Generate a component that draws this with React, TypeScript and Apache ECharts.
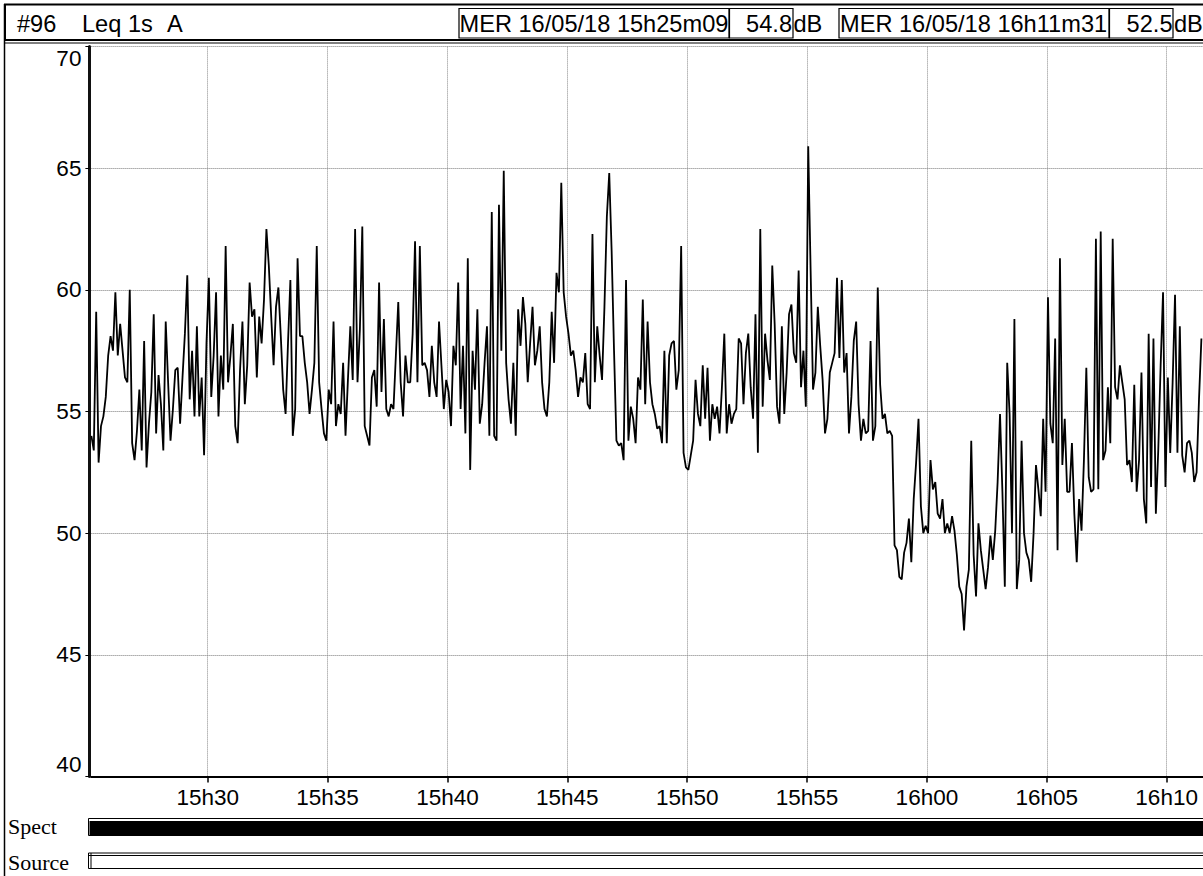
import React, { useEffect, useRef } from "react";
import * as echarts from "echarts";

// Time range (seconds since midnight): 15h25m09 -> 16h11m31
const START_SEC = 55509;
const END_SEC = 58291;
const STEP_SEC = 6;

const xTickSecs = [55800, 56100, 56400, 56700, 57000, 57300, 57600, 57900, 58200];
const xTickLabels = ["15h30", "15h35", "15h40", "15h45", "15h50", "15h55", "16h00", "16h05", "16h10"];
const yMin = 40;
const yMax = 70;
const yStep = 5;

const headerTitle = "#96";
const headerMeasure = "Leq 1s";
const headerWeight = "A";
const startStamp = "MER 16/05/18 15h25m09";
const startLevel = "54.8";
const endStamp = "MER 16/05/18 16h11m31";
const endLevel = "52.5";
const unitLabel = "dB";
const bandLabels = ["Spect", "Source"];

// Leq 1s A values (dB), one reading per 6 s
const leqPart1 = [
  54.0, 53.4, 59.1, 52.9, 54.4, 54.8, 55.6, 57.3, 58.1, 57.5, 59.9, 57.3, 58.6, 57.5, 56.4, 56.2,
  60.0, 53.7, 53.0, 54.2, 55.9, 53.4, 57.9, 52.7, 54.5, 55.8, 59.0, 54.1, 56.5, 55.3, 53.4, 58.7,
  56.2, 53.8, 55.1, 56.7, 56.8, 54.5, 56.4, 58.2, 60.6, 55.5, 57.5, 54.8, 58.5, 54.8, 56.4, 53.2,
  57.8, 60.5, 55.6, 57.3, 59.9, 54.8, 57.3, 55.9, 61.8, 56.2, 57.3, 58.6, 54.4, 53.7, 56.7, 58.7,
  55.3, 56.9, 60.3, 58.9, 59.2, 56.4, 58.9, 57.8, 59.6, 62.5, 61.0, 58.9, 56.9, 59.3, 60.1, 58.1,
  55.9, 54.9, 57.8, 60.4, 54.0, 55.1, 61.3, 58.1, 58.1, 57.0, 56.2, 54.9, 55.9, 57.0, 61.8, 56.2,
  55.1, 54.1, 53.8, 55.9, 55.3, 58.7, 54.4, 55.3, 54.9, 57.0, 54.0, 56.3, 58.5, 56.3, 62.5, 56.2,
  58.4, 62.6, 54.4, 54.0, 53.6, 56.4, 56.7, 55.2, 60.3, 55.8, 58.8, 55.1,
];
const leqPart2 = [
  54.8, 55.3, 55.1, 57.3, 59.5, 56.2, 54.8, 57.3, 56.2, 56.2, 58.2, 62.0, 56.2, 61.8, 56.9, 57.0,
  56.7, 55.6, 57.7, 56.2, 55.6, 58.7, 56.9, 55.1, 56.3, 55.8, 54.4, 57.7, 56.9, 60.3, 55.1, 57.7,
  54.1, 61.3, 52.6, 57.5, 55.9, 59.2, 54.5, 55.3, 57.0, 58.5, 54.0, 63.2, 54.0, 53.8, 63.5, 57.5,
  64.9, 57.0, 55.5, 54.5, 57.0, 54.0, 59.2, 57.7, 59.7, 58.6, 56.2, 57.8, 59.3, 56.9, 57.5, 58.5,
  56.2, 55.1, 54.8, 56.2, 59.1, 57.0, 60.7, 59.9, 64.4, 59.9, 58.9, 58.2, 57.3, 57.5, 56.7, 55.6,
  56.4, 56.2, 57.4, 55.3, 55.1, 62.3, 56.2, 58.5, 57.3, 56.3, 59.3, 63.0, 64.8, 61.6, 57.5, 53.8,
  53.6, 53.7, 53.0, 60.4, 53.8, 55.2, 54.7, 53.7, 56.4, 55.9, 59.6, 55.3, 58.7, 56.2, 55.3, 54.9,
  54.3, 54.4, 53.7, 57.5, 53.7, 57.3, 57.8, 57.9, 55.9,
];
const leqPart3 = [
  56.7, 61.8, 53.3, 52.7, 52.6, 53.2, 53.8, 56.3, 54.9, 54.4, 56.9, 54.7, 56.8, 53.8, 55.3, 54.7,
  55.2, 54.1, 56.0, 58.2, 54.1, 55.3, 54.5, 54.9, 55.1, 58.0, 57.8, 55.3, 57.4, 58.2, 56.0, 54.7,
  59.0, 53.3, 62.5, 55.2, 58.2, 57.1, 56.3, 61.0, 58.6, 55.2, 54.5, 58.5, 54.9, 56.6, 59.0, 59.4,
  57.4, 57.0, 60.8, 56.0, 57.5, 55.2, 65.9, 60.8, 55.9, 56.6, 59.3, 57.7, 56.3, 54.1, 54.7, 56.6,
  57.0, 57.4, 60.5, 57.2, 60.4, 56.6, 57.4, 54.1, 55.6, 57.9, 58.7, 55.3, 53.8, 54.7, 54.1, 54.2,
  57.9, 53.8, 54.4, 60.1, 56.1, 54.7, 54.9, 54.1, 54.2, 54.0,
];
const leqPart4 = [
  49.5, 49.3, 48.2, 48.1, 49.2, 49.6, 50.6, 48.8, 51.4, 52.9, 54.7, 51.1, 50.0, 50.3, 50.0, 53.0,
  51.8, 52.1, 50.8, 50.6, 51.4, 50.0, 50.4, 50.0, 50.7, 50.1, 49.1, 47.8, 47.5, 46.0, 47.8, 48.5,
  53.8, 49.1, 47.4, 50.4, 49.3, 48.5, 47.7, 48.6, 49.9, 48.9, 50.1, 52.1, 54.9, 51.7, 47.8, 57.0,
  54.9, 50.0, 58.8, 47.7, 48.9, 53.8, 50.0, 49.2, 48.9, 48.0, 50.0, 52.8, 51.8, 50.7, 54.7, 51.7,
  59.7, 54.5, 53.7, 58.0, 49.3, 61.3, 52.8, 54.7, 51.7, 51.7, 53.7, 50.8, 48.8, 51.4, 50.1, 53.0,
  56.8, 52.3, 51.7, 51.8, 62.1, 51.8, 62.4, 53.0, 53.4, 56.0, 53.7, 62.1, 56.0, 55.5, 56.9, 56.2,
  55.5, 52.8, 53.0, 52.1, 56.1, 51.7, 53.0, 56.6, 51.4, 50.4, 58.2, 51.9, 58.0, 50.8, 53.4, 56.9,
  59.9, 51.9, 56.4, 53.3, 56.2, 59.8, 53.3, 58.5, 53.2, 52.5, 53.7, 53.8, 53.3, 52.1, 52.5, 55.5,
  58.0,
];

const SANS = '"Liberation Sans", Arial, Helvetica, sans-serif';
const SERIF = '"Liberation Serif", "Times New Roman", serif';

export default function App() {
  const ref = useRef<HTMLDivElement>(null);

  useEffect(() => {
    document.body.style.margin = "0";
    if (!ref.current) return;
    const chart = echarts.init(ref.current, null, { renderer: "svg" });

    const leq = [...leqPart1, ...leqPart2, ...leqPart3, ...leqPart4];
    const seriesData = leq.map((v, i) => [START_SEC + i * STEP_SEC, v]);

    const hdrFont = `23.6px ${SANS}`;
    const hdrY = 23.5;
    const txt = (text: string, x: number, y: number, font: string, align = "left") => ({
      type: "text",
      z: 20,
      style: {
        text,
        x,
        y,
        font,
        fill: "#000",
        textAlign: align,
        textVerticalAlign: "middle",
      },
    });
    const box = (x: number, y: number, w: number, h: number, lw = 1.2, fill = "none") => ({
      type: "rect",
      z: 15,
      shape: { x, y, width: w, height: h },
      style: { fill, stroke: "#000", lineWidth: lw },
    });

    const option: any = {
      animation: false,
      backgroundColor: "#fff",
      grid: { left: 91.4, right: -3.5, top: 46.6, bottom: 99.6, containLabel: false },
      xAxis: {
        type: "value",
        min: START_SEC,
        max: END_SEC,
        axisLine: { show: true, onZero: false, lineStyle: { color: "#000", width: 2 } },
        axisTick: {
          show: true,
          customValues: xTickSecs,
          length: 6,
          lineStyle: { color: "#000", width: 1.5 },
        },
        axisLabel: {
          customValues: xTickSecs,
          formatter: (v: number) => {
            const k = xTickSecs.indexOf(v);
            return k >= 0 ? xTickLabels[k] : "";
          },
          color: "#000",
          fontSize: 22.5,
          fontFamily: SANS,
          margin: 10,
        },
        splitLine: {
          show: true,
          lineStyle: { color: "#8a8a8a", type: "dotted", width: 1 },
        },
      },
      yAxis: {
        type: "value",
        min: yMin,
        max: yMax,
        interval: yStep,
        offset: 2,
        axisLine: { show: true, lineStyle: { color: "#111", width: 3 } },
        axisTick: { show: true, length: 4, lineStyle: { color: "#000", width: 1 } },
        axisLabel: {
          color: "#000",
          fontSize: 22.5,
          fontFamily: SANS,
          margin: 8,
          verticalAlignMinLabel: "bottom",
          verticalAlignMaxLabel: "top",
        },
        splitLine: {
          show: true,
          lineStyle: { color: "#7a7a7a", type: "dotted", width: 1 },
        },
      },
      series: [
        {
          type: "line",
          data: seriesData,
          showSymbol: false,
          symbol: "none",
          lineStyle: { color: "#000", width: 1.8 },
          clip: true,
          z: 5,
        },
      ],
      graphic: {
        elements: [
          // outer left border
          {
            type: "line",
            z: 15,
            shape: { x1: 4.5, y1: 4, x2: 4.5, y2: 876 },
            style: { stroke: "#000", lineWidth: 1.5 },
          },
          // header band
          box(5, 4.5, 1210, 35.5, 2, "#fff"),
          {
            type: "line",
            z: 15,
            shape: { x1: 5, y1: 43, x2: 1203, y2: 43 },
            style: { stroke: "#000", lineWidth: 1 },
          },
          box(459, 8.5, 270, 29.5),
          box(729.5, 8.5, 63.5, 29.5),
          box(839, 8.5, 270, 29.5),
          box(1109.5, 8.5, 63.5, 29.5),
          txt(headerTitle, 17, hdrY, hdrFont),
          txt(headerMeasure, 82, hdrY, hdrFont),
          txt(headerWeight, 167, hdrY, hdrFont),
          txt(startStamp, 459.5, hdrY, hdrFont),
          txt(startLevel, 792, hdrY, hdrFont, "right"),
          txt(unitLabel, 793.5, hdrY, hdrFont),
          txt(endStamp, 840, hdrY, hdrFont),
          txt(endLevel, 1172.5, hdrY, hdrFont, "right"),
          txt(unitLabel, 1174, hdrY, hdrFont),
          // Spect band
          txt(bandLabels[0], 8, 826, `22px ${SERIF}`),
          box(88.5, 818.5, 1120, 17, 1, "#fff"),
          {
            type: "rect",
            z: 16,
            shape: { x: 89.5, y: 821, width: 1120, height: 14 },
            style: { fill: "#000" },
          },
          // Source band
          txt(bandLabels[1], 8, 862, `22px ${SERIF}`),
          box(88.5, 853, 1120, 15.5, 1, "#fff"),
          {
            type: "line",
            z: 16,
            shape: { x1: 88.5, y1: 855.5, x2: 1203, y2: 855.5 },
            style: { stroke: "#000", lineWidth: 1 },
          },
          {
            type: "line",
            z: 16,
            shape: { x1: 91, y1: 853, x2: 91, y2: 868.5 },
            style: { stroke: "#000", lineWidth: 1 },
          },
        ],
      },
    };

    chart.setOption(option);
    return () => chart.dispose();
  }, []);

  return <div ref={ref} style={{ width: 1203, height: 876 }} />;
}
